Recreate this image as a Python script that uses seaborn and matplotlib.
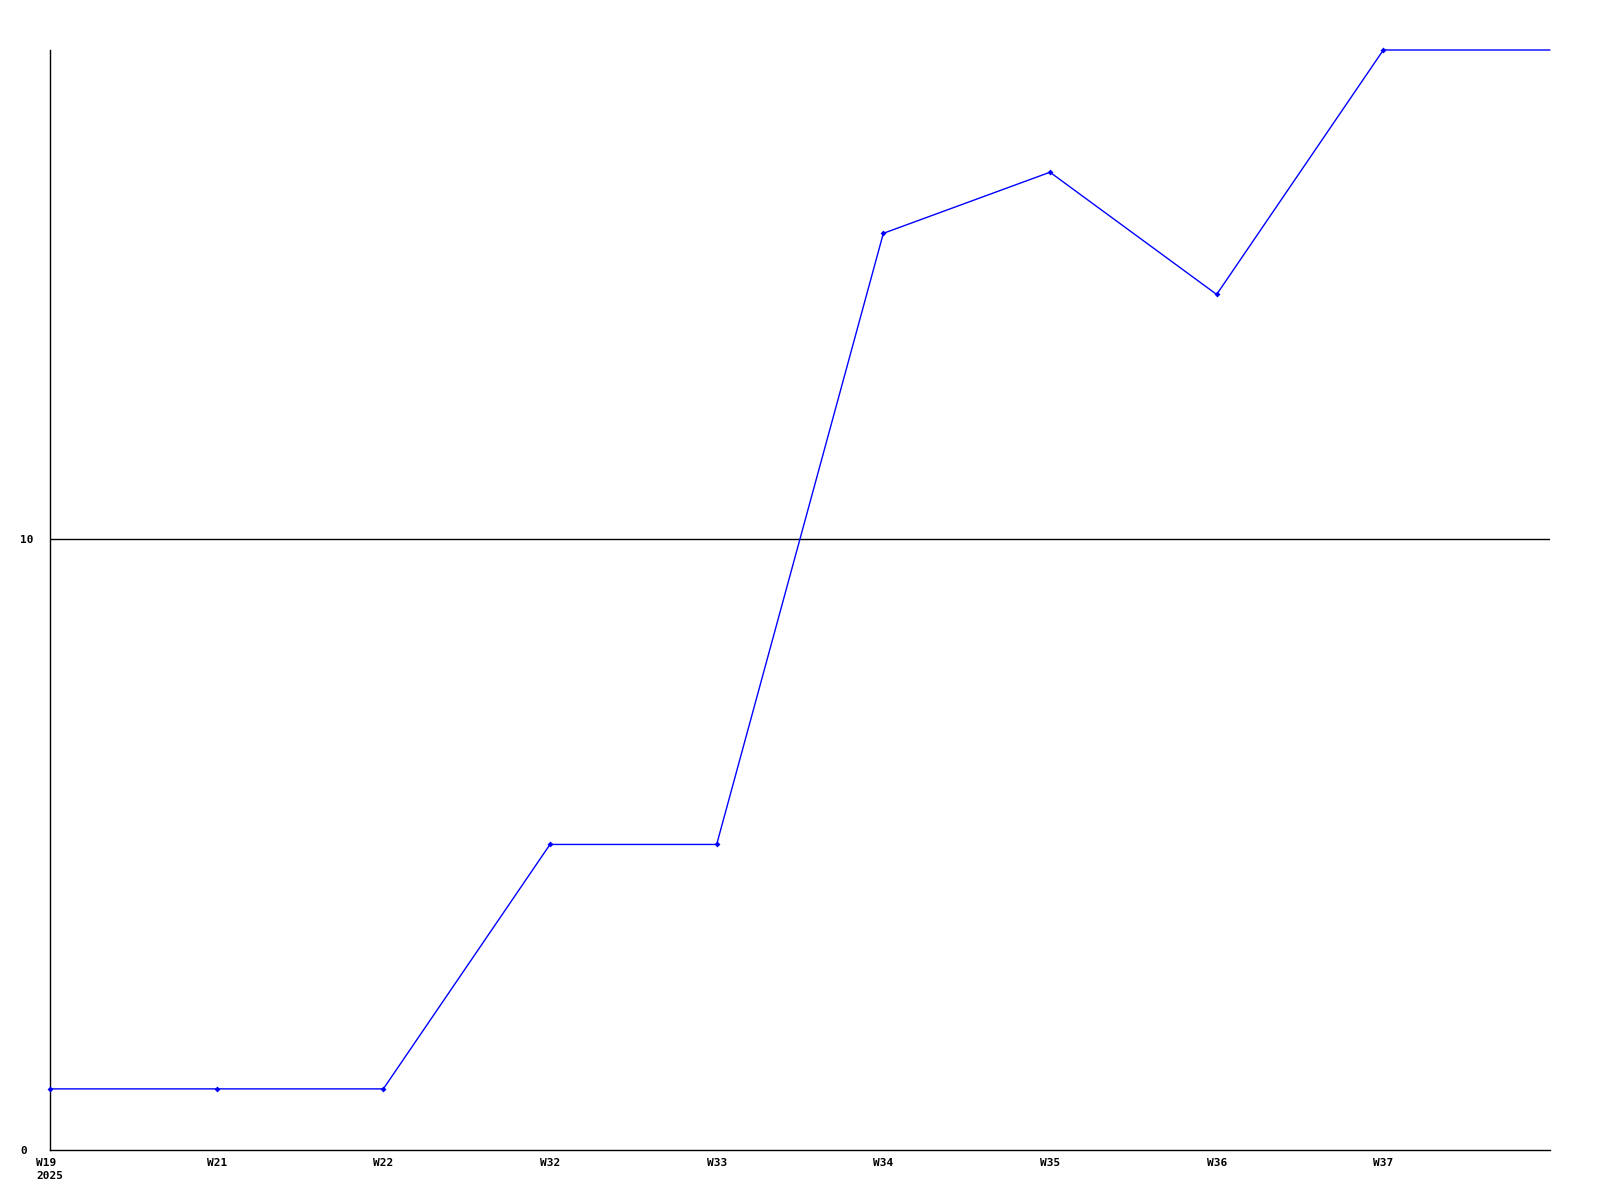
import matplotlib
matplotlib.use('Agg')
import matplotlib.pyplot as plt
import pandas as pd
import seaborn as sns

WEEKS = ['W19', 'W21', 'W22', 'W32', 'W33', 'W34', 'W35', 'W36', 'W37', '']
YEAR = '2025'
VALUES = [1, 1, 1, 5, 5, 15, 16, 14, 18, 18]
Y_TICKS = [0, 10]
LINE_COLOR = '#0000ff'


def main():
    sns.set_style('white')
    plt.rcParams['font.family'] = ['DejaVu Sans Mono']
    plt.rcParams['font.weight'] = 'bold'

    df = pd.DataFrame({'pos': range(len(VALUES)), 'value': VALUES})

    fig = plt.figure(figsize=(16, 12), dpi=100)
    ax = fig.add_axes([50 / 1600, 50 / 1200, 1500 / 1600, 1100 / 1200])

    ax.axhline(10, color='black', linewidth=1, zorder=1)
    sns.lineplot(ax=ax, data=df, x='pos', y='value', color=LINE_COLOR, linewidth=1,
                 marker='D', markersize=3, markeredgewidth=0, markevery=list(range(len(VALUES) - 1)),
                 zorder=5, clip_on=False)

    ax.set_xlim(0, len(VALUES) - 1)
    ax.set_ylim(0, 18)
    labels = list(WEEKS[:-1])
    labels[0] = f'{labels[0]}\n{YEAR}'
    ax.set_xticks(range(len(labels)))
    ax.set_xticklabels(labels, fontsize=8, fontweight='bold', multialignment='left',
                       linespacing=1.35, color='black')
    ax.set_yticks(Y_TICKS)
    ax.set_yticklabels([str(t) for t in Y_TICKS], fontsize=8, fontweight='bold', ha='left',
                       color='black')
    ax.tick_params(axis='x', length=0, pad=6)
    ax.tick_params(axis='y', length=0, pad=21.6)
    ax.set_xlabel('')
    ax.set_ylabel('')

    for side in ['top', 'right']:
        ax.spines[side].set_visible(False)
    for side in ['left', 'bottom']:
        ax.spines[side].set_color('black')
        ax.spines[side].set_linewidth(1)
        ax.spines[side].set_zorder(2)

    fig.savefig('out.png', dpi=100)


if __name__ == '__main__':
    main()
